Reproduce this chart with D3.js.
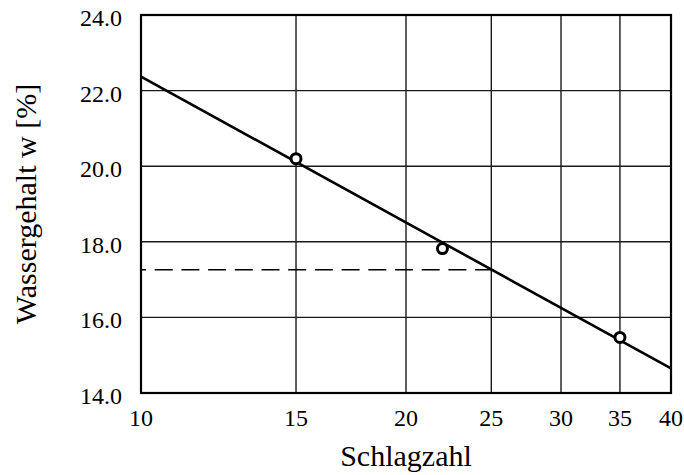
<!DOCTYPE html>
<html>
<head>
<meta charset="utf-8">
<script src="https://cdn.jsdelivr.net/npm/d3@7/dist/d3.min.js"></script>
<style>
  html, body { margin: 0; padding: 0; background: #fff; }
  svg { display: block; }
</style>
</head>
<body>
<svg id="chart" width="684" height="475"></svg>
<script>
// Data
const xTicks = [10, 15, 20, 25, 30, 35, 40];
const yTicks = [14, 16, 18, 20, 22, 24];
const pointsX = [15, 22, 35];
const pointsY = [20.2, 17.82, 15.47];
const fitX = [10, 40];
const fitY = [22.37, 14.65];
const refX = [10, 25];
const refY = [17.26, 17.26];
const xTitle = "Schlagzahl";
const yTitle = "Wassergehalt w [%]";

(function () {
const FONT = "'Liberation Serif', 'Times New Roman', Times, serif";
const svg = d3.select("#chart").attr("font-family", FONT);
const pL = 141, pR = 671, pT = 15, pB = 393;

const x = d3.scaleLog().domain([10, 40]).range([pL, pR]);
const y = d3.scaleLinear().domain([14, 24]).range([pB, pT]);

// grid
svg.append("g").selectAll("line").data(xTicks.slice(1, -1)).join("line")
  .attr("x1", d => x(d)).attr("x2", d => x(d))
  .attr("y1", pT).attr("y2", pB)
  .attr("stroke", "#1a1a1a").attr("stroke-width", 1.4);
svg.append("g").selectAll("line").data(yTicks.slice(1, -1)).join("line")
  .attr("x1", pL).attr("x2", pR)
  .attr("y1", d => y(d)).attr("y2", d => y(d))
  .attr("stroke", "#1a1a1a").attr("stroke-width", 1.4);

// dashed reference
svg.append("path")
  .datum(refX.map((d, i) => [d, refY[i]]))
  .attr("d", d3.line().x(d => x(d[0])).y(d => y(d[1])))
  .attr("fill", "none").attr("stroke", "#000").attr("stroke-width", 1.5)
  .attr("stroke-dasharray", "18,8.7").attr("stroke-dashoffset", 13);

// fit line
svg.append("path")
  .datum(fitX.map((d, i) => [d, fitY[i]]))
  .attr("d", d3.line().x(d => x(d[0])).y(d => y(d[1])))
  .attr("fill", "none").attr("stroke", "#000").attr("stroke-width", 2.6);

// frame
svg.append("rect")
  .attr("x", pL).attr("y", pT)
  .attr("width", pR - pL).attr("height", pB - pT)
  .attr("fill", "none").attr("stroke", "#000").attr("stroke-width", 2.2);

// points
svg.append("g").selectAll("circle").data(pointsX.map((d, i) => [d, pointsY[i]])).join("circle")
  .attr("cx", d => x(d[0])).attr("cy", d => y(d[1])).attr("r", 5)
  .attr("fill", "#fff").attr("stroke", "#000").attr("stroke-width", 3);

// tick labels
svg.append("g").selectAll("text").data(xTicks).join("text")
  .attr("font-family", FONT)
  .attr("x", d => x(d)).attr("y", 426)
  .attr("text-anchor", "middle").attr("font-size", 24).attr("fill", "#000")
  .text(d => d);
svg.append("g").selectAll("text").data(yTicks).join("text")
  .attr("font-family", FONT)
  .attr("x", 122).attr("y", d => y(d) + 11)
  .attr("text-anchor", "end").attr("font-size", 24).attr("fill", "#000")
  .text(d => d.toFixed(1));

// titles
svg.append("text")
  .attr("font-family", FONT)
  .attr("x", (pL + pR) / 2).attr("y", 466)
  .attr("text-anchor", "middle").attr("font-size", 30).attr("fill", "#000")
  .text(xTitle);
svg.append("text")
  .attr("font-family", FONT)
  .attr("transform", `translate(36,${(pT + pB) / 2}) rotate(-90)`)
  .attr("text-anchor", "middle").attr("font-size", 30).attr("fill", "#000")
  .text(yTitle);
})();
</script>
</body>
</html>
